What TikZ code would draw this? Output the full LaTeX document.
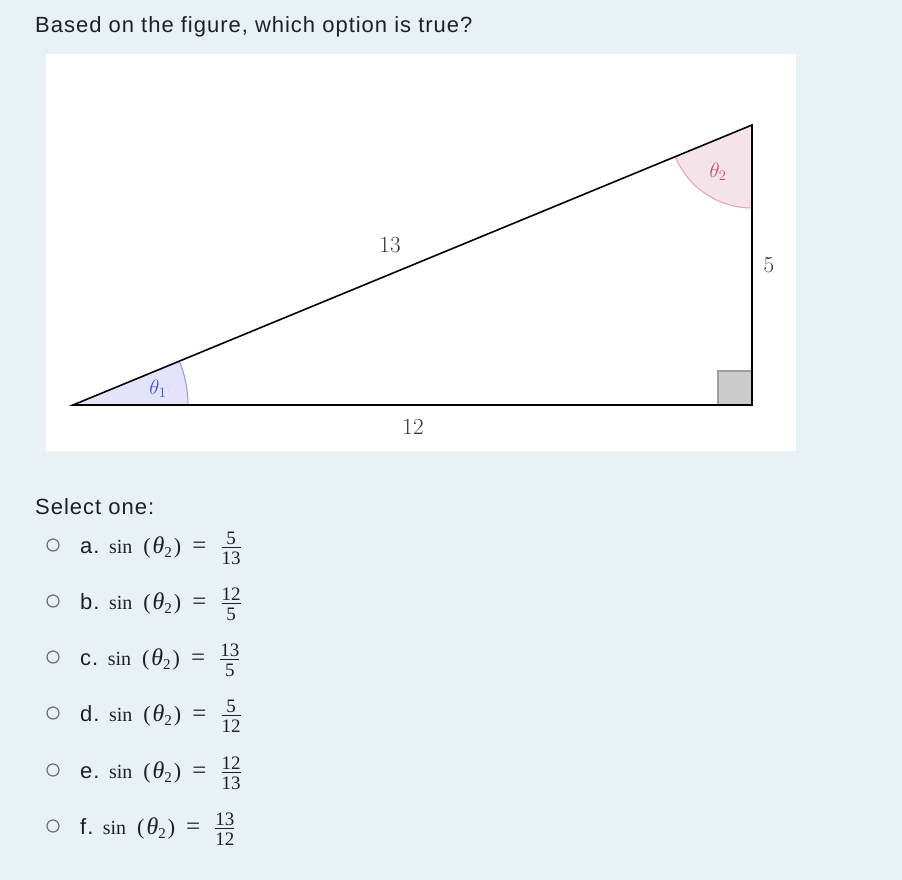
\documentclass[tikz,border=0pt]{standalone}
\usepackage{amsmath}
\usepackage{fontspec}
\setsansfont[LetterSpace=4.5]{Liberation Sans}
\newfontfamily\optserif{Liberation Serif}
\usetikzlibrary{angles}

\definecolor{pagebg}{HTML}{E8F2F5}
\definecolor{textdark}{HTML}{1D2125}
\definecolor{labelgray}{HTML}{333333}
\definecolor{radiogray}{HTML}{6F6F6F}
\definecolor{fillone}{HTML}{E3E3FB}
\definecolor{arcone}{HTML}{9A9AF5}
\definecolor{textone}{HTML}{4A4ADF}
\definecolor{filltwo}{HTML}{F5E3EA}
\definecolor{arctwo}{HTML}{E3A6BD}
\definecolor{texttwo}{HTML}{C84A6E}

% sin(theta_2) = a/b, set as the option lines show it
\newcommand{\sinopt}[2]{{\optserif\fontsize{20}{24}\selectfont sin\hspace{11pt}%
{\fontsize{22}{26}\selectfont(}\hspace{2pt}{\fontsize{24}{26}\selectfont\itshape θ}%
\raisebox{-4pt}{\fontsize{15}{18}\selectfont 2}\hspace{2pt}{\fontsize{22}{26}\selectfont)}%
\hspace{11pt}{\fontsize{25}{28}\selectfont =}\hspace{14pt}%
$\frac{\text{\fontsize{19}{22}\selectfont #1\rule[-2pt]{0pt}{2pt}}}%
{\text{\fontsize{19}{22}\selectfont\rule{0pt}{15pt}#2}}$}}

\begin{document}
\begin{tikzpicture}[x=1pt, y=1pt,
  question/.style = {anchor=base west, inner sep=0pt, font=\fontsize{22}{26}\sffamily, text=textdark},
  radio/.style = {draw=radiogray, line width=1.2pt, circle, minimum size=12pt, inner sep=0pt},
  side/.style = {font=\fontsize{23}{26}\selectfont, text=labelgray},
  anglelabel/.style = {font=\fontsize{20}{24}\selectfont},
  edge/.style = {line width=1.6pt, line join=miter}]
\useasboundingbox[fill=pagebg] (0,0) rectangle (902,-880);
\fill[white] (46,-54) rectangle (796,-451);

% triangle corners
\coordinate (1) at (73,-405);
\coordinate (2) at (752,-405);
\coordinate (3) at (752,-125);

% angle marks
\pic[draw=arcone, fill=fillone, line width=1.1pt, angle radius=115pt] {angle = 2--1--3};
\pic[draw=arctwo, fill=filltwo, line width=1.1pt, angle radius=83pt] {angle = 1--3--2};
\draw[draw=black!38, fill=black!20, line width=1.2pt] (2) rectangle ++(-34,34);

\draw[edge] (1) -- (2) -- (3) -- cycle;

\node[side] (hyp) at (390,-245) {13};
\node[side] (base) at (413,-427) {12};
\node[side] (leg) at (769,-265) {5};
\node[anglelabel, text=textone] (t1) at (158,-389) {$\theta_1$};
\node[anglelabel, text=texttwo] (t2) at (718,-172) {$\theta_2$};

% question and options
\node[question] (q) at (35,-33) {Based on the figure, which option is true?};
\node[question] (sel) at (35,-514) {Select one:};

\node[radio] (ra) at (53,-545) {};
\node[question] (oa) at (80,-553) {a. \sinopt{5}{13}};
\node[radio] (rb) at (53,-601) {};
\node[question] (ob) at (80,-609) {b. \sinopt{12}{5}};
\node[radio] (rc) at (53,-657) {};
\node[question] (oc) at (80,-665) {c. \sinopt{13}{5}};
\node[radio] (rd) at (53,-713) {};
\node[question] (od) at (80,-721) {d. \sinopt{5}{12}};
\node[radio] (re) at (53,-770) {};
\node[question] (oe) at (80,-778) {e. \sinopt{12}{13}};
\node[radio] (rf) at (53,-826) {};
\node[question] (of) at (80,-834) {f. \sinopt{13}{12}};
\end{tikzpicture}
\end{document}
